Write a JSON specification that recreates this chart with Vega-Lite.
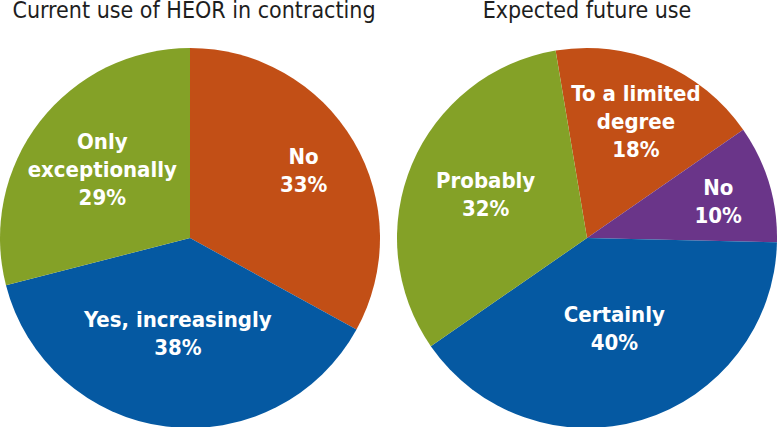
{
  "$schema": "https://vega.github.io/schema/vega-lite/v6.json",
  "padding": 0,
  "background": "white",
  "spacing": 17,
  "config": {"view": {"stroke": null}, "concat": {"spacing": 17}},
  "datasets": {
    "current": [
      {"label": "No", "pct": 33, "i": 1},
      {"label": "Yes, increasingly", "pct": 38, "i": 2},
      {"label": "Only\nexceptionally", "pct": 29, "i": 3}
    ],
    "future": [
      {"label": "To a limited\ndegree", "pct": 18, "i": 1},
      {"label": "No", "pct": 10, "i": 2},
      {"label": "Certainly", "pct": 40, "i": 3},
      {"label": "Probably", "pct": 32, "i": 4}
    ]
  },
  "resolve": {"scale": {"color": "independent", "theta": "independent"}},
  "hconcat": [
    {
      "width": 380,
      "height": 380,
      "title": {"text": "Current use of HEOR in contracting", "anchor": "middle", "dx": 4, "font": "DejaVu Sans Condensed, Liberation Sans, sans-serif", "fontSize": 23, "fontWeight": "normal", "color": "#1e1e1e", "offset": 25},
      "data": {"name": "current"},
      "transform": [{"calculate": "datum.label + '\\n' + datum.pct + '%'", "as": "txt"}],
      "encoding": {
        "theta": {"field": "pct", "type": "quantitative", "stack": true, "scale": {"range": [0, 6.283185]}},
        "order": {"field": "i", "type": "quantitative"}
      },
      "layer": [
        {
          "mark": {"type": "arc"},
          "encoding": {
            "color": {"field": "label", "type": "nominal", "legend": null,
              "scale": {"domain": ["No", "Yes, increasingly", "Only\nexceptionally"], "range": ["#c24f16", "#0559a2", "#84a127"]}}
          }
        },
        {
          "mark": {"type": "text", "font": "DejaVu Sans Condensed, Liberation Sans, sans-serif", "fontSize": 22, "fontWeight": "bold", "color": "white", "lineBreak": "\n", "lineHeight": 28, "align": "center", "baseline": "middle",
            "radius": {"expr": "datum.i == 1 ? 132 : datum.i == 2 ? 97 : 111"},
            "dy": {"expr": "-(length(split(datum.txt, '\\n')) - 1) * 14"}},
          "encoding": {
            "detail": {"field": "label", "type": "nominal"},
            "text": {"field": "txt", "type": "nominal"}
          }
        }
      ]
    },
    {
      "width": 380,
      "height": 380,
      "title": {"text": "Expected future use", "anchor": "middle", "font": "DejaVu Sans Condensed, Liberation Sans, sans-serif", "fontSize": 23, "fontWeight": "normal", "color": "#1e1e1e", "offset": 25},
      "data": {"name": "future"},
      "transform": [{"calculate": "datum.label + '\\n' + datum.pct + '%'", "as": "txt"}],
      "encoding": {
        "theta": {"field": "pct", "type": "quantitative", "stack": true, "scale": {"range": [-0.166, 6.117]}},
        "order": {"field": "i", "type": "quantitative"}
      },
      "layer": [
        {
          "mark": {"type": "arc"},
          "encoding": {
            "color": {"field": "label", "type": "nominal", "legend": null,
              "scale": {"domain": ["To a limited\ndegree", "No", "Certainly", "Probably"], "range": ["#c24f16", "#6a3589", "#0559a2", "#84a127"]}}
          }
        },
        {
          "mark": {"type": "text", "font": "DejaVu Sans Condensed, Liberation Sans, sans-serif", "fontSize": 22, "fontWeight": "bold", "color": "white", "lineBreak": "\n", "lineHeight": 28, "align": "center", "baseline": "middle",
            "radius": {"expr": "datum.i == 1 ? 126 : datum.i == 2 ? 137 : datum.i == 3 ? 95 : 110"},
            "dy": {"expr": "-(length(split(datum.txt, '\\n')) - 1) * 14 + (datum.i == 2 ? 3 : 0)"}},
          "encoding": {
            "detail": {"field": "label", "type": "nominal"},
            "text": {"field": "txt", "type": "nominal"}
          }
        }
      ]
    }
  ]
}
